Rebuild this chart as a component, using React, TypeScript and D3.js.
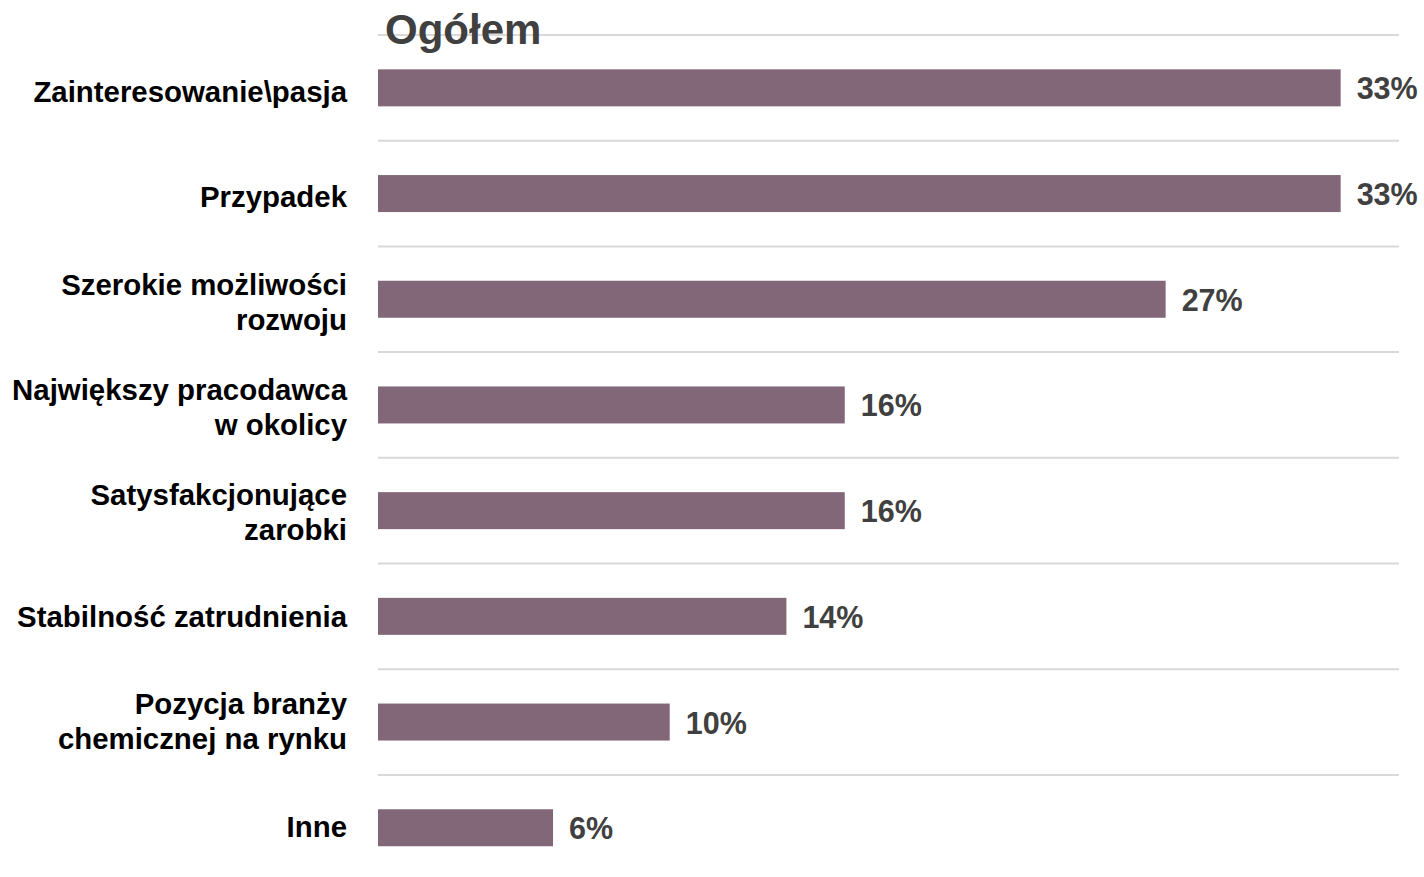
import React from "react";
import * as d3 from "d3";

const categories: string[][] = [
  ["Zainteresowanie\\pasja"],
  ["Przypadek"],
  ["Szerokie możliwości", "rozwoju"],
  ["Największy pracodawca", "w okolicy"],
  ["Satysfakcjonujące", "zarobki"],
  ["Stabilność zatrudnienia"],
  ["Pozycja branży", "chemicznej na rynku"],
  ["Inne"],
];
const values: number[] = [33, 33, 27, 16, 16, 14, 10, 6];
const title = "Ogółem";

const W = 1424;
const H = 877;
const FONT = "'Liberation Sans', Arial, sans-serif";

export default function App() {
  const x = d3.scaleLinear().domain([0, 35]).range([378, 1399]);
  const ids = categories.map((_, i) => String(i));
  const y = d3.scaleBand<string>().domain(ids).range([35, 880.6]).padding(0);
  // category labels sit on a slightly tighter rhythm than the bars
  const yLab = d3.scaleBand<string>().domain(ids).range([39.5, 878.7]).padding(0);
  const bw = y.bandwidth();
  const barH = bw * 0.35;
  const lineH = 35;

  return (
    <svg
      width={W}
      height={H}
      style={{ position: "absolute", left: 0, top: 0, background: "#fff" }}
      fontFamily={FONT}
    >
      {ids.map((id) => (
        <line
          key={"g" + id}
          x1={x(0)}
          x2={x(35)}
          y1={y(id)!}
          y2={y(id)!}
          stroke="#d9d9d9"
          strokeWidth={2}
        />
      ))}
      <text x={385} y={44} fontSize={42} fontWeight="bold" fill="#404040">
        {title}
      </text>
      {ids.map((id, i) => {
        const cy = y(id)! + bw / 2;
        const base = yLab(id)! + yLab.bandwidth() / 2 + 10.5;
        const lines = categories[i];
        const startY = base - ((lines.length - 1) * lineH) / 2;
        return (
          <g key={"b" + id}>
            <rect
              x={x(0)}
              y={cy - barH / 2}
              width={x(values[i]) - x(0)}
              height={barH}
              fill="#826778"
            />
            <text
              x={x(values[i]) + 16}
              y={cy + 11.5}
              fontSize={30.5}
              fontWeight="bold"
              fill="#404040"
            >
              {values[i] + "%"}
            </text>
            <text
              x={347}
              textAnchor="end"
              fontSize={29.4}
              fontWeight="bold"
              fill="#000"
            >
              {lines.map((l, k) => (
                <tspan key={k} x={347} y={startY + k * lineH}>
                  {l}
                </tspan>
              ))}
            </text>
          </g>
        );
      })}
    </svg>
  );
}
